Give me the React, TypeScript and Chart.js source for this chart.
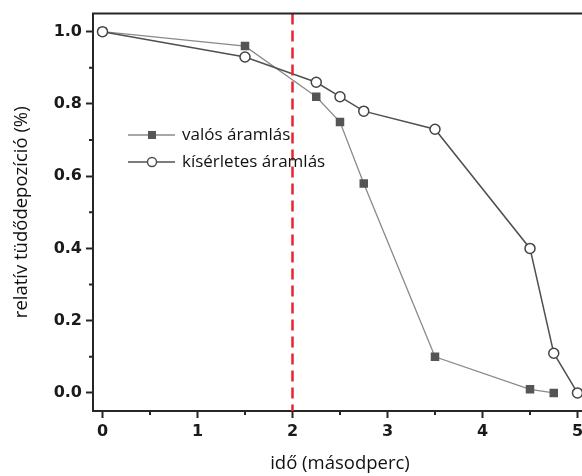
import React, { useEffect, useRef } from 'react';
import { Chart, registerables } from 'chart.js';

Chart.register(...registerables);

const realX = [0, 1.5, 2.25, 2.5, 2.75, 3.5, 4.5, 4.75];
const realY = [1.0, 0.96, 0.82, 0.75, 0.58, 0.1, 0.01, 0.0];
const expX = [0, 1.5, 2.25, 2.5, 2.75, 3.5, 4.5, 4.75, 5.0];
const expY = [1.0, 0.93, 0.86, 0.82, 0.78, 0.73, 0.4, 0.11, 0.0];
const seriesLabels = ['valós áramlás', 'kísérletes áramlás'];
const xTicks = [0, 1, 2, 3, 4, 5];
const yTicks = [0, 0.2, 0.4, 0.6, 0.8, 1.0];
const xMinorTicks = [0.5, 1.5, 2.5, 3.5, 4.5];
const yMinorTicks = [0.1, 0.3, 0.5, 0.7, 0.9];
const markerLineX = 2;
const xTitle = 'idő (másodperc)';
const yTitle = 'relatív tüdődepozíció (%)';

const AXIS = '#262626';
const TEXT_FONT = '"Open Sans", "Noto Sans", sans-serif';

const framePlugin = {
  id: 'frame',
  afterDatasetsDraw(chart: any) {
    const { ctx, chartArea, scales } = chart;
    const x = scales.x;
    ctx.save();
    const px = x.getPixelForValue(markerLineX);
    ctx.strokeStyle = '#e8262f';
    ctx.lineWidth = 2.5;
    ctx.setLineDash([11, 6]);
    ctx.beginPath();
    ctx.moveTo(px, chartArea.top);
    ctx.lineTo(px, chartArea.bottom);
    ctx.stroke();
    ctx.setLineDash([]);
    ctx.restore();
  },
  afterDraw(chart: any) {
    const { ctx, chartArea, scales } = chart;
    const x = scales.x;
    const y = scales.y;
    ctx.save();
    ctx.strokeStyle = AXIS;
    ctx.lineWidth = 2;
    ctx.beginPath();
    ctx.moveTo(chartArea.left - 1, chartArea.top);
    ctx.lineTo(chartArea.right, chartArea.top);
    ctx.moveTo(chartArea.right, chartArea.top);
    ctx.lineTo(chartArea.right, chartArea.bottom);
    ctx.stroke();
    ctx.lineWidth = 2;
    ctx.beginPath();
    xMinorTicks.forEach((v) => {
      const p = x.getPixelForValue(v);
      ctx.moveTo(p, chartArea.bottom);
      ctx.lineTo(p, chartArea.bottom + 4);
    });
    yMinorTicks.forEach((v) => {
      const p = y.getPixelForValue(v);
      ctx.moveTo(chartArea.left, p);
      ctx.lineTo(chartArea.left - 4, p);
    });
    ctx.stroke();

    // legend
    const lx0 = 128;
    const lx1 = 175;
    const mx = 152;
    const rows = [135, 162];
    const tx = 182;
    ctx.font = `17px ${TEXT_FONT}`;
    ctx.textBaseline = 'middle';
    ctx.textAlign = 'left';
    ctx.strokeStyle = '#8a8a8a';
    ctx.lineWidth = 1.3;
    ctx.beginPath();
    ctx.moveTo(lx0, rows[0]);
    ctx.lineTo(lx1, rows[0]);
    ctx.stroke();
    ctx.fillStyle = '#555555';
    ctx.fillRect(mx - 4, rows[0] - 4, 8, 8);
    ctx.fillStyle = '#111';
    ctx.fillText(seriesLabels[0], tx, rows[0]);
    ctx.strokeStyle = '#505050';
    ctx.lineWidth = 1.5;
    ctx.beginPath();
    ctx.moveTo(lx0, rows[1]);
    ctx.lineTo(lx1, rows[1]);
    ctx.stroke();
    ctx.fillStyle = '#fff';
    ctx.beginPath();
    ctx.arc(mx, rows[1], 4.5, 0, Math.PI * 2);
    ctx.fill();
    ctx.stroke();
    ctx.fillStyle = '#111';
    ctx.fillText(seriesLabels[1], tx, rows[1]);
    ctx.restore();
  },
};

export default function App() {
  const ref = useRef<HTMLCanvasElement>(null);
  useEffect(() => {
    const canvas = ref.current;
    if (!canvas) return;
    const chart = new Chart(canvas, {
      type: 'line',
      data: {
        datasets: [
          {
            label: seriesLabels[0],
            data: realX.map((x, i) => ({ x, y: realY[i] })),
            borderColor: '#8a8a8a',
            borderWidth: 1.3,
            pointStyle: 'rect',
            pointRadius: 6,
            pointBackgroundColor: '#555555',
            pointBorderColor: '#555555',
            pointBorderWidth: 0,
            tension: 0,
            order: 1,
          },
          {
            label: seriesLabels[1],
            data: expX.map((x, i) => ({ x, y: expY[i] })),
            borderColor: '#505050',
            borderWidth: 1.5,
            pointStyle: 'circle',
            pointRadius: 5,
            pointBackgroundColor: '#ffffff',
            pointBorderColor: '#444444',
            pointBorderWidth: 1.5,
            tension: 0,
            order: 0,
          },
        ],
      },
      options: {
        responsive: false,
        animation: false,
        devicePixelRatio: 1,
        layout: { padding: { left: 0, top: 13, right: 13, bottom: 0 } },
        plugins: {
          legend: { display: false },
          tooltip: { enabled: false },
        },
        scales: {
          x: {
            type: 'linear',
            min: -0.1,
            max: 5.1,
            afterFit: (s: any) => {
              s.height = 65;
            },
            afterBuildTicks: (s: any) => {
              s.ticks = xTicks.map((v) => ({ value: v }));
            },
            ticks: {
              color: '#1a1a1a',
              font: { family: '"DejaVu Sans", sans-serif', weight: 'bold', size: 16 },
              padding: 4,
              maxRotation: 0,
              callback: (v: any) => String(v),
            },
            grid: {
              drawOnChartArea: false,
              drawTicks: true,
              tickLength: 7,
              tickWidth: 2,
              tickColor: AXIS,
            },
            border: { display: true, color: AXIS, width: 2 },
            title: {
              display: true,
              text: xTitle,
              color: '#111',
              font: { family: TEXT_FONT, size: 18.5 },
              padding: { top: 0, bottom: 1 },
            },
          },
          y: {
            type: 'linear',
            min: -0.05,
            max: 1.05,
            afterFit: (s: any) => {
              s.width = 93;
            },
            afterBuildTicks: (s: any) => {
              s.ticks = yTicks.map((v) => ({ value: v }));
            },
            ticks: {
              color: '#1a1a1a',
              font: { family: '"DejaVu Sans", sans-serif', weight: 'bold', size: 16 },
              padding: 4,
              callback: (v: any) => Number(v).toFixed(1),
            },
            grid: {
              drawOnChartArea: false,
              drawTicks: true,
              tickLength: 7,
              tickWidth: 2,
              tickColor: AXIS,
            },
            border: { display: true, color: AXIS, width: 2 },
            title: {
              display: true,
              text: yTitle,
              color: '#111',
              font: { family: TEXT_FONT, size: 18.5 },
              padding: { top: 11, bottom: 0 },
            },
          },
        },
      },
      plugins: [framePlugin],
    });
    return () => chart.destroy();
  }, []);
  return (
    <div
      style={{
        position: 'fixed',
        left: 0,
        top: 0,
        width: 582,
        height: 476,
        overflow: 'hidden',
        background: '#fff',
      }}
    >
      <canvas ref={ref} width={600} height={476} style={{ display: 'block' }} />
    </div>
  );
}
